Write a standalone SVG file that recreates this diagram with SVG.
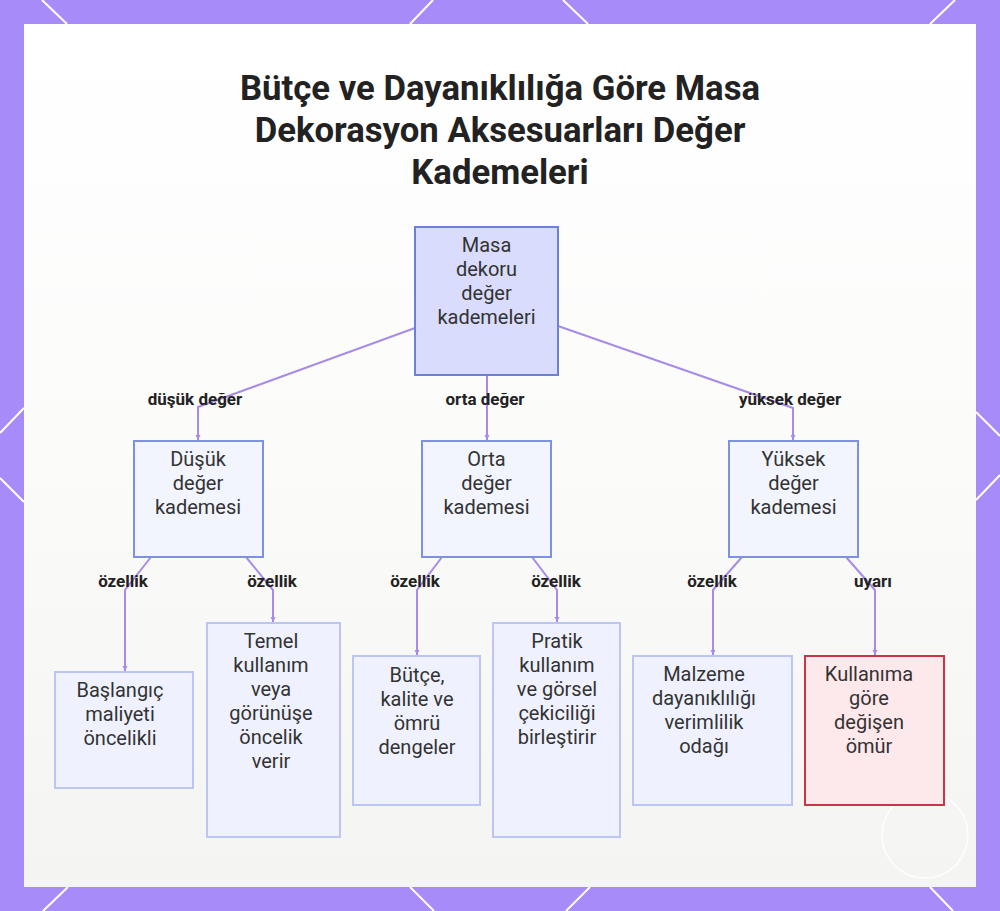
<svg xmlns="http://www.w3.org/2000/svg" width="1000" height="911" viewBox="0 0 1000 911">
<defs>
<style>
.title{font-family:Roboto,"Liberation Sans",sans-serif;font-weight:700;font-size:34.7px;fill:#222;text-anchor:middle}
.nt{font-family:Roboto,"Liberation Sans",sans-serif;font-size:20px;fill:#333;text-anchor:middle}
.el{font-family:Roboto,"Liberation Sans",sans-serif;font-weight:700;font-size:17px;fill:#222;text-anchor:middle}
.root{fill:#d9dcfc;stroke:#6d80d8;stroke-width:2}
.mid{fill:#f2f4fe;stroke:#7d90e2;stroke-width:2}
.leaf{fill:#eff2fe;stroke:#bcc6f4;stroke-width:2}
.warn{fill:#fde8eb;stroke:#c93545;stroke-width:2}
.edge{fill:none;stroke:#a78be8;stroke-width:2}
.deco{stroke:#ffffff;stroke-width:2}
</style>
<linearGradient id="bg" x1="0" y1="0" x2="0" y2="1">
<stop offset="0" stop-color="#ffffff"/>
<stop offset="0.5" stop-color="#fbfbfa"/>
<stop offset="1" stop-color="#f4f4f2"/>
</linearGradient>
<marker id="arr" markerWidth="6" markerHeight="6" refX="5" refY="3" orient="auto" markerUnits="userSpaceOnUse">
<path d="M0,0.5 L5,3 L0,5.5 Z" fill="#a78be8"/>
</marker>
</defs>
<rect x="0" y="0" width="1000" height="911" fill="#a78bf8"/>
<g class="deco">
<line x1="42" y1="0" x2="67" y2="24"/>
<line x1="433" y1="0" x2="410" y2="24"/>
<line x1="563" y1="0" x2="588" y2="24"/>
<line x1="955" y1="0" x2="930" y2="24"/>
<line x1="0" y1="433" x2="24" y2="408"/>
<line x1="0" y1="478" x2="24" y2="502"/>
<line x1="976" y1="412" x2="1000" y2="436"/>
<line x1="976" y1="500" x2="1000" y2="475"/>
<line x1="68" y1="887" x2="43" y2="911"/>
<line x1="410" y1="887" x2="434" y2="911"/>
<line x1="590" y1="887" x2="566" y2="911"/>
<line x1="930" y1="887" x2="953" y2="911"/>
</g>
<rect x="24" y="24" width="952" height="863" fill="url(#bg)"/>
<circle cx="925" cy="835" r="43" fill="none" stroke="#ffffff" stroke-width="1.5" opacity="0.9"/>
<g id="title">
<text class="title" x="500" y="100">Bütçe ve Dayanıklılığa Göre Masa</text>
<text class="title" x="500" y="142">Dekorasyon Aksesuarları Değer</text>
<text class="title" x="500" y="184">Kademeleri</text>
</g>
<g id="connectors">
<polyline class="edge" points="415,328 198,407 198,440" marker-end="url(#arr)"/>
<polyline class="edge" points="487,375 487,440" marker-end="url(#arr)"/>
<polyline class="edge" points="558,326 793,408 793,440" marker-end="url(#arr)"/>
<polyline class="edge" points="151,557 125,590 125,671" marker-end="url(#arr)"/>
<polyline class="edge" points="246,557 273,590 273,622" marker-end="url(#arr)"/>
<polyline class="edge" points="442,557 417,590 417,655" marker-end="url(#arr)"/>
<polyline class="edge" points="532,557 557,590 557,622" marker-end="url(#arr)"/>
<polyline class="edge" points="742,557 713,590 713,655" marker-end="url(#arr)"/>
<polyline class="edge" points="846,557 875,590 875,655" marker-end="url(#arr)"/>
<text class="el" x="195" y="405">düşük değer</text>
<text class="el" x="485" y="405">orta değer</text>
<text class="el" x="790" y="405">yüksek değer</text>
<text class="el" x="123" y="587">özellik</text>
<text class="el" x="272" y="587">özellik</text>
<text class="el" x="415" y="587">özellik</text>
<text class="el" x="556" y="587">özellik</text>
<text class="el" x="712" y="587">özellik</text>
<text class="el" x="873" y="587">uyarı</text>
</g>
<g id="root">
<rect class="root" x="415" y="227" width="143" height="148"/>
<text class="nt" x="486.5" y="252">Masa</text>
<text class="nt" x="486.5" y="276">dekoru</text>
<text class="nt" x="486.5" y="300">değer</text>
<text class="nt" x="486.5" y="324">kademeleri</text>
</g>
<g id="dusuk">
<rect class="mid" x="134" y="441" width="129" height="116"/>
<text class="nt" x="198" y="466">Düşük</text>
<text class="nt" x="198" y="490">değer</text>
<text class="nt" x="198" y="514">kademesi</text>
</g>
<g id="orta">
<rect class="mid" x="422" y="441" width="129" height="116"/>
<text class="nt" x="486.5" y="466">Orta</text>
<text class="nt" x="486.5" y="490">değer</text>
<text class="nt" x="486.5" y="514">kademesi</text>
</g>
<g id="yuksek">
<rect class="mid" x="729" y="441" width="129" height="116"/>
<text class="nt" x="793.5" y="466">Yüksek</text>
<text class="nt" x="793.5" y="490">değer</text>
<text class="nt" x="793.5" y="514">kademesi</text>
</g>
<g id="baslangic">
<rect class="leaf" x="55" y="672" width="138" height="116"/>
<text class="nt" x="120" y="697">Başlangıç</text>
<text class="nt" x="120" y="721">maliyeti</text>
<text class="nt" x="120" y="745">öncelikli</text>
</g>
<g id="temel">
<rect class="leaf" x="207" y="623" width="133" height="214"/>
<text class="nt" x="271" y="648">Temel</text>
<text class="nt" x="271" y="672">kullanım</text>
<text class="nt" x="271" y="696">veya</text>
<text class="nt" x="271" y="720">görünüşe</text>
<text class="nt" x="271" y="744">öncelik</text>
<text class="nt" x="271" y="768">verir</text>
</g>
<g id="butce">
<rect class="leaf" x="353" y="656" width="127" height="149"/>
<text class="nt" x="417" y="682">Bütçe,</text>
<text class="nt" x="417" y="706">kalite ve</text>
<text class="nt" x="417" y="730">ömrü</text>
<text class="nt" x="417" y="754">dengeler</text>
</g>
<g id="pratik">
<rect class="leaf" x="493" y="623" width="127" height="214"/>
<text class="nt" x="557" y="648">Pratik</text>
<text class="nt" x="557" y="672">kullanım</text>
<text class="nt" x="557" y="696">ve görsel</text>
<text class="nt" x="557" y="720">çekiciliği</text>
<text class="nt" x="557" y="744">birleştirir</text>
</g>
<g id="malzeme">
<rect class="leaf" x="633" y="656" width="159" height="149"/>
<text class="nt" x="704" y="681">Malzeme</text>
<text class="nt" x="704" y="705">dayanıklılığı</text>
<text class="nt" x="704" y="729">verimlilik</text>
<text class="nt" x="704" y="753">odağı</text>
</g>
<g id="kullanima">
<rect class="warn" x="805" y="656" width="139" height="149"/>
<text class="nt" x="869" y="681">Kullanıma</text>
<text class="nt" x="869" y="705">göre</text>
<text class="nt" x="869" y="729">değişen</text>
<text class="nt" x="869" y="753">ömür</text>
</g>
</svg>
